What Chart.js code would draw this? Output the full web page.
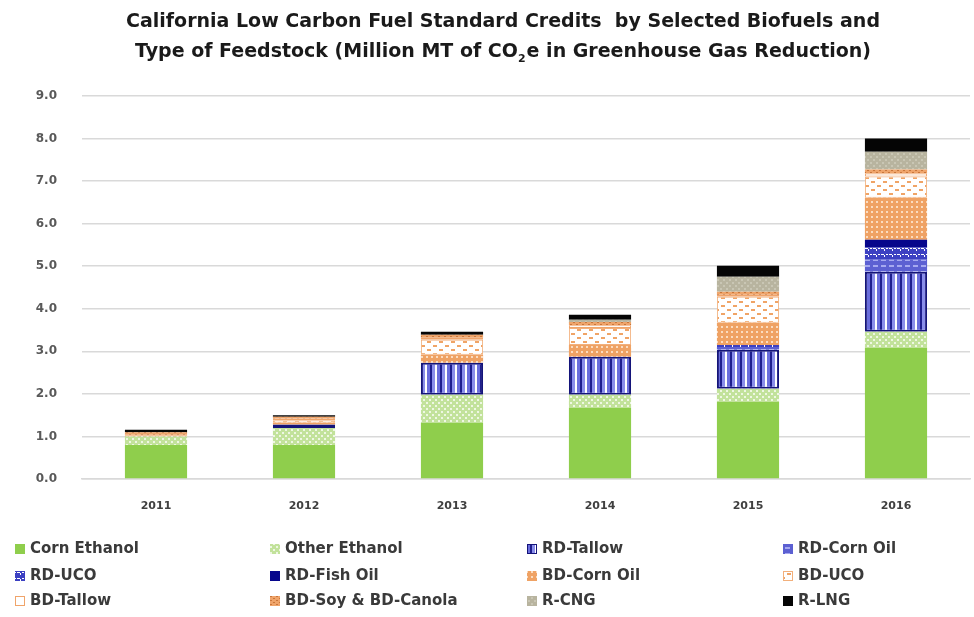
<!DOCTYPE html>
<html>
<head>
<meta charset="utf-8">
<script src="https://cdn.jsdelivr.net/npm/chart.js@4.4.1/dist/chart.umd.min.js"></script>
<style>
  html, body { margin: 0; padding: 0; background: #fff; }
  #wrap { width: 974px; height: 617px; }
</style>
</head>
<body>
<div id="wrap"><canvas id="lcfsChart" width="974" height="617"></canvas></div>
<script>
// LCFS credits by fuel and feedstock, million MT CO2e
const years = ['2011', '2012', '2013', '2014', '2015', '2016'];
const cornEthanol = [0.80, 0.80, 1.32, 1.67, 1.81, 3.08];
const otherEthanol = [0.20, 0.40, 0.66, 0.31, 0.31, 0.38];
const rdTallow = [0, 0.08, 0.75, 0.89, 0.92, 1.41];
const rdCornOil = [0, 0, 0, 0, 0.06, 0.28];
const rdUco = [0, 0, 0, 0, 0.05, 0.29];
const rdFishOil = [0, 0, 0, 0, 0, 0.18];
const bdCornOil = [0.02, 0.04, 0.19, 0.28, 0.52, 0.99];
const bdUco = [0, 0.06, 0.35, 0.40, 0.61, 0.50];
const bdTallow = [0.02, 0.04, 0.05, 0.06, 0.05, 0.07];
const bdSoyCanola = [0.06, 0.04, 0.07, 0.08, 0.07, 0.09];
const rCng = [0, 0, 0, 0.05, 0.35, 0.42];
const rLng = [0.06, 0.04, 0.07, 0.12, 0.26, 0.31];
const yTicks = [0, 1, 2, 3, 4, 5, 6, 7, 8, 9];

const titleLines = [
    'California Low Carbon Fuel Standard Credits  by Selected Biofuels and',
    ['Type of Feedstock (Million MT of CO', '2', 'e in Greenhouse Gas Reduction)']
];

// small tiled fills, similar to the office-style pattern fills
const makePattern = (w, h, draw) => {
    const c = document.createElement('canvas');
    c.width = w;
    c.height = h;
    const g = c.getContext('2d');
    draw(g);
    return g.createPattern(c, 'repeat');
};

const fills = {
    otherEthanol: makePattern(6, 6, g => {
        g.fillStyle = '#C2E29B'; g.fillRect(0, 0, 6, 6);
        g.fillStyle = '#EEF7E3'; g.fillRect(0, 0, 2, 2); g.fillRect(3, 3, 2, 2);
    }),
    rdTallow: makePattern(10, 4, g => {
        g.fillStyle = '#1E1E8E'; g.fillRect(0, 0, 2, 4);
        g.fillStyle = '#8A8EEA'; g.fillRect(2, 0, 3, 4);
        g.fillStyle = '#FFFFFF'; g.fillRect(5, 0, 2, 4);
        g.fillStyle = '#6A6EDC'; g.fillRect(7, 0, 3, 4);
    }),
    rdCornOil: makePattern(8, 6, g => {
        g.fillStyle = '#5C60D2'; g.fillRect(0, 0, 8, 6);
        g.fillStyle = '#A6A9F0'; g.fillRect(1, 1, 5, 2);
    }),
    rdUco: makePattern(8, 6, g => {
        g.fillStyle = '#3C40C2'; g.fillRect(0, 0, 8, 6);
        g.fillStyle = '#FFFFFF'; g.fillRect(1, 2, 3, 1); g.fillRect(4, 3, 1, 2); g.fillRect(6, 2, 2, 1);
    }),
    bdCornOil: makePattern(5, 5, g => {
        g.fillStyle = '#EFA264'; g.fillRect(0, 0, 5, 5);
        g.fillStyle = '#FBDCC0'; g.fillRect(1, 1, 2, 2);
    }),
    bdUco: makePattern(12, 8, g => {
        g.fillStyle = '#FFFFFF'; g.fillRect(0, 0, 12, 8);
        g.fillStyle = '#F0A466'; g.fillRect(1, 1, 4, 2); g.fillRect(7, 5, 4, 2);
    }),
    bdSoyCanola: makePattern(6, 4, g => {
        g.fillStyle = '#EFA46A'; g.fillRect(0, 0, 6, 4);
        g.fillStyle = '#C9763A'; g.fillRect(0, 0, 2, 1); g.fillRect(3, 2, 2, 1);
    }),
    rCng: makePattern(6, 6, g => {
        g.fillStyle = '#B8B49F'; g.fillRect(0, 0, 6, 6);
        g.fillStyle = '#C9C6B4'; g.fillRect(0, 0, 2, 2); g.fillRect(3, 3, 2, 2);
    })
};

const series = [
    {label: 'Corn Ethanol', data: cornEthanol, backgroundColor: '#8FCE4C'},
    {label: 'Other Ethanol', data: otherEthanol, backgroundColor: fills.otherEthanol},
    {label: 'RD-Tallow', data: rdTallow, backgroundColor: fills.rdTallow, borderColor: '#14147A', borderWidth: 2},
    {label: 'RD-Corn Oil', data: rdCornOil, backgroundColor: fills.rdCornOil},
    {label: 'RD-UCO', data: rdUco, backgroundColor: fills.rdUco},
    {label: 'RD-Fish Oil', data: rdFishOil, backgroundColor: '#06068C'},
    {label: 'BD-Corn Oil', data: bdCornOil, backgroundColor: fills.bdCornOil},
    {label: 'BD-UCO', data: bdUco, backgroundColor: fills.bdUco, borderColor: '#F2B07C', borderWidth: 1},
    {label: 'BD-Tallow', data: bdTallow, backgroundColor: '#FFFFFF', borderColor: '#F0A46A', borderWidth: 1},
    {label: 'BD-Soy & BD-Canola', data: bdSoyCanola, backgroundColor: fills.bdSoyCanola},
    {label: 'R-CNG', data: rCng, backgroundColor: fills.rCng},
    {label: 'R-LNG', data: rLng, backgroundColor: '#050505'}
];

// title with subscript 2 in CO2e
const titlePlugin = {
    id: 'twoLineTitle',
    afterDraw(chart) {
        const {ctx} = chart;
        const cx = 503;
        const bigFont = 'bold 19px "DejaVu Sans"';
        const subFont = 'bold 11px "DejaVu Sans"';
        ctx.save();
        ctx.fillStyle = '#1A1A1A';
        ctx.textBaseline = 'middle';
        ctx.font = bigFont;
        ctx.textAlign = 'center';
        ctx.fillText(titleLines[0], cx, 22);

        const [a, sub, b] = titleLines[1];
        const wa = ctx.measureText(a).width;
        const wb = ctx.measureText(b).width;
        ctx.font = subFont;
        const ws = ctx.measureText(sub).width + 1;
        let x = cx - (wa + ws + wb) / 2;
        ctx.textAlign = 'left';
        ctx.font = bigFont;
        ctx.fillText(a, x, 52);
        x += wa;
        ctx.font = subFont;
        ctx.fillText(sub, x, 59);
        x += ws;
        ctx.font = bigFont;
        ctx.fillText(b, x, 52);
        ctx.restore();
    }
};

// four-column legend under the plot
const legendPlugin = {
    id: 'gridLegend',
    afterDraw(chart) {
        const {ctx} = chart;
        const cols = [15, 270, 527, 783];
        const rows = [549, 576, 601];
        ctx.save();
        ctx.font = 'bold 15px "DejaVu Sans"';
        ctx.textBaseline = 'middle';
        ctx.textAlign = 'left';
        chart.data.datasets.forEach((ds, i) => {
            const x = cols[i % 4];
            const y = rows[Math.floor(i / 4)];
            ctx.fillStyle = ds.backgroundColor;
            ctx.fillRect(x, y - 5, 10, 10);
            if (ds.borderColor) {
                ctx.strokeStyle = ds.borderColor;
                ctx.lineWidth = 1;
                ctx.strokeRect(x + 0.5, y - 4.5, 9, 9);
            }
            ctx.fillStyle = '#3A3A3A';
            ctx.fillText(ds.label, x + 15, y);
        });
        ctx.restore();
    }
};

new Chart(document.getElementById('lcfsChart').getContext('2d'), {
    type: 'bar',
    data: {
        labels: years,
        datasets: series.map(s => Object.assign({borderWidth: 0, borderSkipped: false}, s))
    },
    options: {
        responsive: false,
        animation: false,
        layout: {
            padding: {top: 96, right: 4, bottom: 0, left: 0}
        },
        datasets: {
            bar: {barPercentage: 0.42, categoryPercentage: 1}
        },
        scales: {
            x: {
                stacked: true,
                grid: {display: false},
                border: {display: true, color: '#D9D9D9', width: 1.5},
                ticks: {color: '#404040', font: {family: 'DejaVu Sans', size: 11, weight: 'bold'}, padding: 13},
                afterFit(scale) { scale.height = 138; }
            },
            y: {
                stacked: true,
                min: 0,
                max: 9,
                afterBuildTicks(scale) { scale.ticks = yTicks.map(v => ({value: v})); },
                grid: {color: '#D9D9D9', lineWidth: 1.5, drawTicks: false},
                border: {display: false},
                ticks: {
                    color: '#595959',
                    font: {family: 'DejaVu Sans', size: 12, weight: 'bold'},
                    padding: 25,
                    callback: v => v.toFixed(1)
                },
                afterFit(scale) { scale.width = 82; }
            }
        },
        plugins: {
            legend: {display: false},
            title: {display: false},
            tooltip: {enabled: false}
        }
    },
    plugins: [titlePlugin, legendPlugin]
});
</script>
</body>
</html>
